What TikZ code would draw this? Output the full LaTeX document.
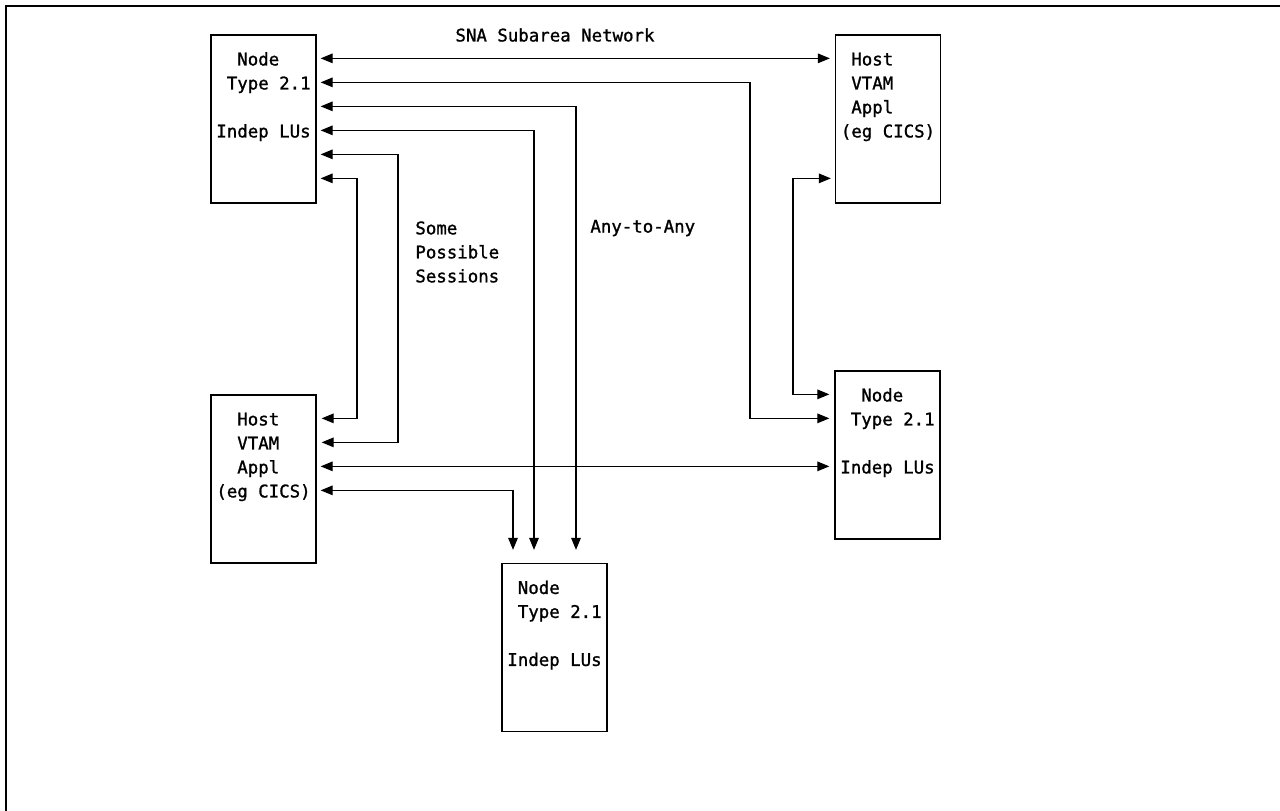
\documentclass[tikz,border=0pt]{standalone}
\usepackage{fontspec}
\setmonofont[FakeBold=1.2]{DejaVu Sans Mono}
\usetikzlibrary{arrows.meta}
\newcommand{\rowstrut}{\rule[-2.8pt]{0pt}{12pt}}
\tikzset{
  box/.style={draw, line width=0.65pt, minimum width=52.5pt, minimum height=84pt,
    inner sep=0pt, align=left, font=\ttfamily\fontsize{8.7pt}{12pt}\selectfont},
  lbl/.style={inner sep=0pt, align=left, font=\ttfamily\fontsize{8.7pt}{12pt}\selectfont},
  link/.style={line width=0.55pt,
    {Triangle[length=6pt,width=4.8pt]}-{Triangle[length=6pt,width=4.8pt]},
    shorten <=2pt, shorten >=2.5pt},
}
\begin{document}
\begin{tikzpicture}[x=0.5pt,y=-0.5pt]
    \useasboundingbox (0,0) rectangle (1280,810);
    \draw[line width=1pt] (6,6) rectangle (1300,830);
    % the five boxes
    \node[box] (nta) at (263.5,119) {\rowstrut~~Node\\\rowstrut~Type 2.1\\\rowstrut\\\rowstrut Indep LUs\\\rowstrut\\\rowstrut};
    \node[box] (hostb) at (888,119) {\rowstrut~Host\\\rowstrut~VTAM\\\rowstrut~Appl\\\rowstrut(eg CICS)\\\rowstrut\\\rowstrut};
    \node[box] (hosta) at (263.5,479) {\rowstrut~~Host\\\rowstrut~~VTAM\\\rowstrut~~Appl\\\rowstrut(eg CICS)\\\rowstrut\\\rowstrut};
    \node[box] (ntb) at (887.5,455) {\rowstrut~~Node\\\rowstrut~Type 2.1\\\rowstrut\\\rowstrut Indep LUs\\\rowstrut\\\rowstrut};
    \node[box] (ntc) at (554.5,647.5) {\rowstrut~Node\\\rowstrut~Type 2.1\\\rowstrut\\\rowstrut Indep LUs\\\rowstrut\\\rowstrut};
    % labels
    \node[lbl] (title) at (555,35) {SNA Subarea Network};
    \node[lbl, anchor=west] (some) at (415,252) {Some\\Possible\\Sessions};
    \node[lbl, anchor=west] (any) at (590,228) {Any-to-Any};
    % where the lines turn
    \coordinate (ja) at (357,300);
    \coordinate (jb) at (398,300);
    \coordinate (jc) at (513,0);
    \coordinate (jd) at (534,0);
    \coordinate (je) at (576,0);
    \coordinate (jf) at (750,250);
    \coordinate (jg) at (793,300);
    % sessions
    \draw[link] ([yshift=-12pt]nta.north east) -- ([yshift=-12pt]hostb.north west);
    \draw[link] ([yshift=-24pt]nta.north east) -| (jf) |- ([yshift=-24pt]ntb.north west);
    \draw[link, shorten >=6.5pt] ([yshift=-36pt]nta.north east) -| (je |- ntc.north);
    \draw[link, shorten >=6.5pt] ([yshift=-48pt]nta.north east) -| (jd |- ntc.north);
    \draw[link] ([yshift=-60pt]nta.north east) -| (jb) |- ([yshift=-24pt]hosta.north east);
    \draw[link] ([yshift=-72pt]nta.north east) -| (ja) |- ([yshift=-12pt]hosta.north east);
    \draw[link] ([yshift=-72pt]hostb.north west) -| (jg) |- ([yshift=-12pt]ntb.north west);
    \draw[link] ([yshift=-36pt]hosta.north east) -- ([yshift=-48pt]ntb.north west);
    \draw[link, shorten >=6.5pt] ([yshift=-48pt]hosta.north east) -| (jc |- ntc.north);
\end{tikzpicture}
\end{document}
